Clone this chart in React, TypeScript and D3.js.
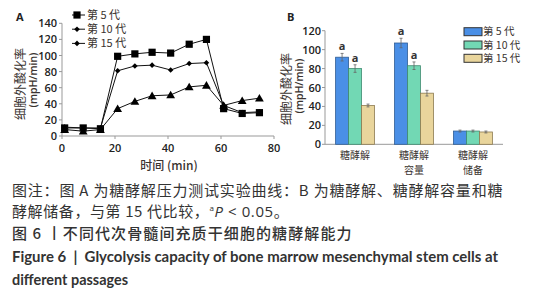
import React from "react";
import * as d3 from "d3";

const timeMin = [1, 8, 14.5, 21, 27.5, 34, 41, 48, 54.5, 61, 68, 74.5];
const passage5 = [10, 10, 9, 99, 102, 104, 103, 114, 120, 34, 28, 29];
const passage10 = [11, 10, 10, 81, 87, 88, 82, 90, 91, 38, 29, 30];
const passage15 = [8, 6, 8, 34, 43, 50, 51, 61, 63, 38, 44, 47];
const lineTicksY = [0, 20, 40, 60, 80, 100, 120, 140];
const lineTicksX = [0, 20, 40, 60, 80];

const seriesNames = ["第 5 代", "第 10 代", "第 15 代"];
const barCategories = [["糖酵解"], ["糖酵解", "容量"], ["糖酵解", "储备"]];
const bar5 = [92, 107, 14];
const bar10 = [80, 83, 14];
const bar15 = [41, 54, 13];
const err5 = [4, 5, 1];
const err10 = [4, 4, 1];
const err15 = [1.5, 3, 1];
const sig5 = [true, true, false];
const sig10 = [true, true, false];
const barTicksY = [0, 20, 40, 60, 80, 100, 120];

const captionLines = [
  "图注：图 A 为糖酵解压力测试实验曲线：B 为糖酵解、糖酵解容量和糖",
  "酵解储备，与第 15 代比较，",
];
const titleCn = "图 6 丨不同代次骨髓间充质干细胞的糖酵解能力";
const titleEn1 = "Figure 6 \u00a0|\u00a0 Glycolysis capacity of bone marrow mesenchymal stem cells at";
const titleEn2 = "different passages";

const barColors = ["#4a8fe6", "#72d8b4", "#e9d59c"];
const barStrokes = ["#2e5c95", "#3f8a70", "#8c7a50"];
const cn = "'Noto Sans CJK SC', 'Noto Sans', sans-serif";
const lat = "'Open Sans', 'Noto Sans CJK SC', sans-serif";
const lato = "Lato, 'Open Sans', sans-serif";

function Marker({ kind, x, y }: { kind: number; x: number; y: number }) {
  if (kind === 0) return <rect x={x - 3.6} y={y - 3.6} width={7.2} height={7.2} fill="#000" />;
  if (kind === 1) return <path d={`M${x},${y - 2.8}L${x + 2.8},${y}L${x},${y + 2.8}L${x - 2.8},${y}Z`} fill="#000" />;
  return <path d={`M${x},${y - 4.2}L${x + 4.4},${y + 3.4}L${x - 4.4},${y + 3.4}Z`} fill="#000" />;
}

export default function App() {
  // Panel A
  const xA = d3.scaleLinear().domain([0, 80]).range([62, 274]);
  const yA = d3.scaleLinear().domain([0, 140]).range([136, 23.3]);
  const series = [passage5, passage10, passage15];
  const line = d3
    .line<number>()
    .x((_, i) => xA(timeMin[i]))
    .y((d) => yA(d));

  // Panel B
  const xB = d3.scaleBand<number>().domain([0, 1, 2]).range([325, 503]).paddingInner(0.34).paddingOuter(0.18);
  const xInner = d3.scaleBand<number>().domain([0, 1, 2]).range([0, xB.bandwidth()]);
  const yB = d3.scaleLinear().domain([0, 120]).range([144.3, 30.7]);
  const barVals = [bar5, bar10, bar15];
  const barErrs = [err5, err10, err15];
  const sigs = [sig5, sig10, null];

  return (
    <div style={{ position: "absolute", left: 0, top: 0 }}>
      <svg width={551} height={300} style={{ display: "block", background: "#fff" }}>
        {/* Panel A */}
        <text x={16} y={21} fontFamily={lat} fontWeight={700} fontSize={11} fill="#222">A</text>
        <line x1={xA(0)} x2={xA(80)} y1={yA(0)} y2={yA(0)} stroke="#999" strokeWidth={1} />
        <line x1={xA(0)} x2={xA(0)} y1={yA(0)} y2={yA(140)} stroke="#999" strokeWidth={1} />
        {lineTicksY.map((t) => (
          <g key={"ya" + t}>
            <line x1={xA(0) - 3} x2={xA(0)} y1={yA(t)} y2={yA(t)} stroke="#999" />
            <text x={xA(0) - 5} y={yA(t) + 4} textAnchor="end" fontFamily={lat} fontWeight={600} fontSize={11} fill="#222">{t}</text>
          </g>
        ))}
        {lineTicksX.map((t) => (
          <g key={"xa" + t}>
            <line x1={xA(t)} x2={xA(t)} y1={yA(0)} y2={yA(0) + 3} stroke="#999" />
            <text x={xA(t)} y={152} textAnchor="middle" fontFamily={lat} fontWeight={600} fontSize={11} fill="#222">{t}</text>
          </g>
        ))}
        <text x={169} y={169.5} textAnchor="middle" fontFamily={cn} fontWeight={500} fontSize={12} fill="#3a3330">时间 (min)</text>
        <g transform="translate(21,84) rotate(-90)">
          <text x={0} y={4} textAnchor="middle" fontFamily={cn} fontSize={12} fill="#3a3330">细胞外酸化率</text>
        </g>
        <g transform="translate(33,80) rotate(-90)">
          <text x={0} y={4} textAnchor="middle" fontFamily={lat} fontWeight={600} fontSize={10.5} fill="#3a3330">(mpH/min)</text>
        </g>
        {series.map((s, k) => (
          <g key={"s" + k}>
            <path d={line(s) || ""} fill="none" stroke="#111" strokeWidth={1} />
            {s.map((v, i) => (
              <Marker key={i} kind={k} x={xA(timeMin[i])} y={yA(v)} />
            ))}
          </g>
        ))}
        {seriesNames.map((n, k) => {
          const y = 15 + k * 14.2;
          return (
            <g key={"la" + k}>
              <line x1={72} x2={85} y1={y} y2={y} stroke="#111" />
              <Marker kind={k === 0 ? 0 : 1} x={77} y={y} />
              <text x={87} y={y + 4} fontFamily={cn} fontSize={11} fill="#3a3330">{n}</text>
            </g>
          );
        })}

        {/* Panel B */}
        <text x={287} y={21} fontFamily={lat} fontWeight={700} fontSize={11} fill="#222">B</text>
        <line x1={325} x2={503} y1={yB(0)} y2={yB(0)} stroke="#999" />
        <line x1={325} x2={325} y1={yB(0)} y2={yB(120)} stroke="#999" />
        {barTicksY.map((t) => (
          <g key={"yb" + t}>
            <line x1={322} x2={325} y1={yB(t)} y2={yB(t)} stroke="#999" />
            <text x={321} y={yB(t) + 4} textAnchor="end" fontFamily={lat} fontWeight={600} fontSize={11} fill="#222">{t}</text>
          </g>
        ))}
        <g transform="translate(287,89) rotate(-90)">
          <text x={0} y={4} textAnchor="middle" fontFamily={cn} fontSize={12} fill="#3a3330">细胞外酸化率</text>
        </g>
        <g transform="translate(299,86) rotate(-90)">
          <text x={0} y={4} textAnchor="middle" fontFamily={lat} fontWeight={600} fontSize={10.5} fill="#3a3330">(mpH/min)</text>
        </g>
        {barCategories.map((cat, g) => (
          <g key={"g" + g}>
            {barVals.map((vals, k) => {
              const x0 = (xB(g) || 0) + (xInner(k) || 0);
              const w = xInner.bandwidth();
              const cx = x0 + w / 2;
              const v = vals[g];
              const e = barErrs[k][g];
              const sg = sigs[k];
              return (
                <g key={k}>
                  <rect x={x0} y={yB(v)} width={w} height={yB(0) - yB(v)} fill={barColors[k]} stroke={barStrokes[k]} strokeWidth={0.8} />
                  <line x1={cx} x2={cx} y1={yB(v + e)} y2={yB(v - e)} stroke="#666" strokeWidth={0.8} />
                  <line x1={cx - 1.5} x2={cx + 1.5} y1={yB(v + e)} y2={yB(v + e)} stroke="#666" strokeWidth={0.8} />
                  <line x1={cx - 1.5} x2={cx + 1.5} y1={yB(v - e)} y2={yB(v - e)} stroke="#666" strokeWidth={0.8} />
                  {sg && sg[g] ? (
                    <text x={cx} y={yB(v + e) - 3} textAnchor="middle" fontFamily={lat} fontWeight={700} fontSize={11} fill="#333">a</text>
                  ) : null}
                </g>
              );
            })}
            {cat.map((t, j) => (
              <text key={j} x={(xB(g) || 0) + xB.bandwidth() / 2} y={159 + j * 15} textAnchor="middle" fontFamily={cn} fontSize={10} fill="#3a3330">{t}</text>
            ))}
          </g>
        ))}
        {seriesNames.map((n, k) => {
          const y = 31.7 + k * 13.3;
          return (
            <g key={"lb" + k}>
              <rect x={464} y={y - 4} width={18} height={8} fill={barColors[k]} stroke="#333" strokeWidth={1} />
              <text x={483} y={y + 3.6} fontFamily={cn} fontSize={10.5} fill="#3a3330">{n}</text>
            </g>
          );
        })}

        {/* Caption */}
        <text x={12} y={196} fontFamily={cn} fontSize={15} letterSpacing={0.8} fill="#333">{captionLines[0]}</text>
        <text x={12} y={217} fontFamily={cn} fontSize={15} letterSpacing={0.6} fill="#333">
          {captionLines[1]}
          <tspan fontSize={8} dy={-6} fontFamily={lat}>a</tspan>
          <tspan dy={6} fontStyle="italic" fontFamily={lat}>P</tspan>
          <tspan fontFamily={lat}> &lt; 0.05</tspan>
          <tspan>。</tspan>
        </text>
        <text x={12} y={239} fontFamily={cn} fontSize={15} letterSpacing={1.1} fontWeight={500} fill="#333">{titleCn}</text>
        <text x={12} y={262} fontFamily={lato} fontSize={14.5} fontWeight={700} fill="#333" textLength={486} lengthAdjust="spacingAndGlyphs">{titleEn1}</text>
        <text x={12} y={285} fontFamily={lato} fontSize={14.5} fontWeight={700} fill="#333" textLength={116} lengthAdjust="spacingAndGlyphs">{titleEn2}</text>
      </svg>
    </div>
  );
}
